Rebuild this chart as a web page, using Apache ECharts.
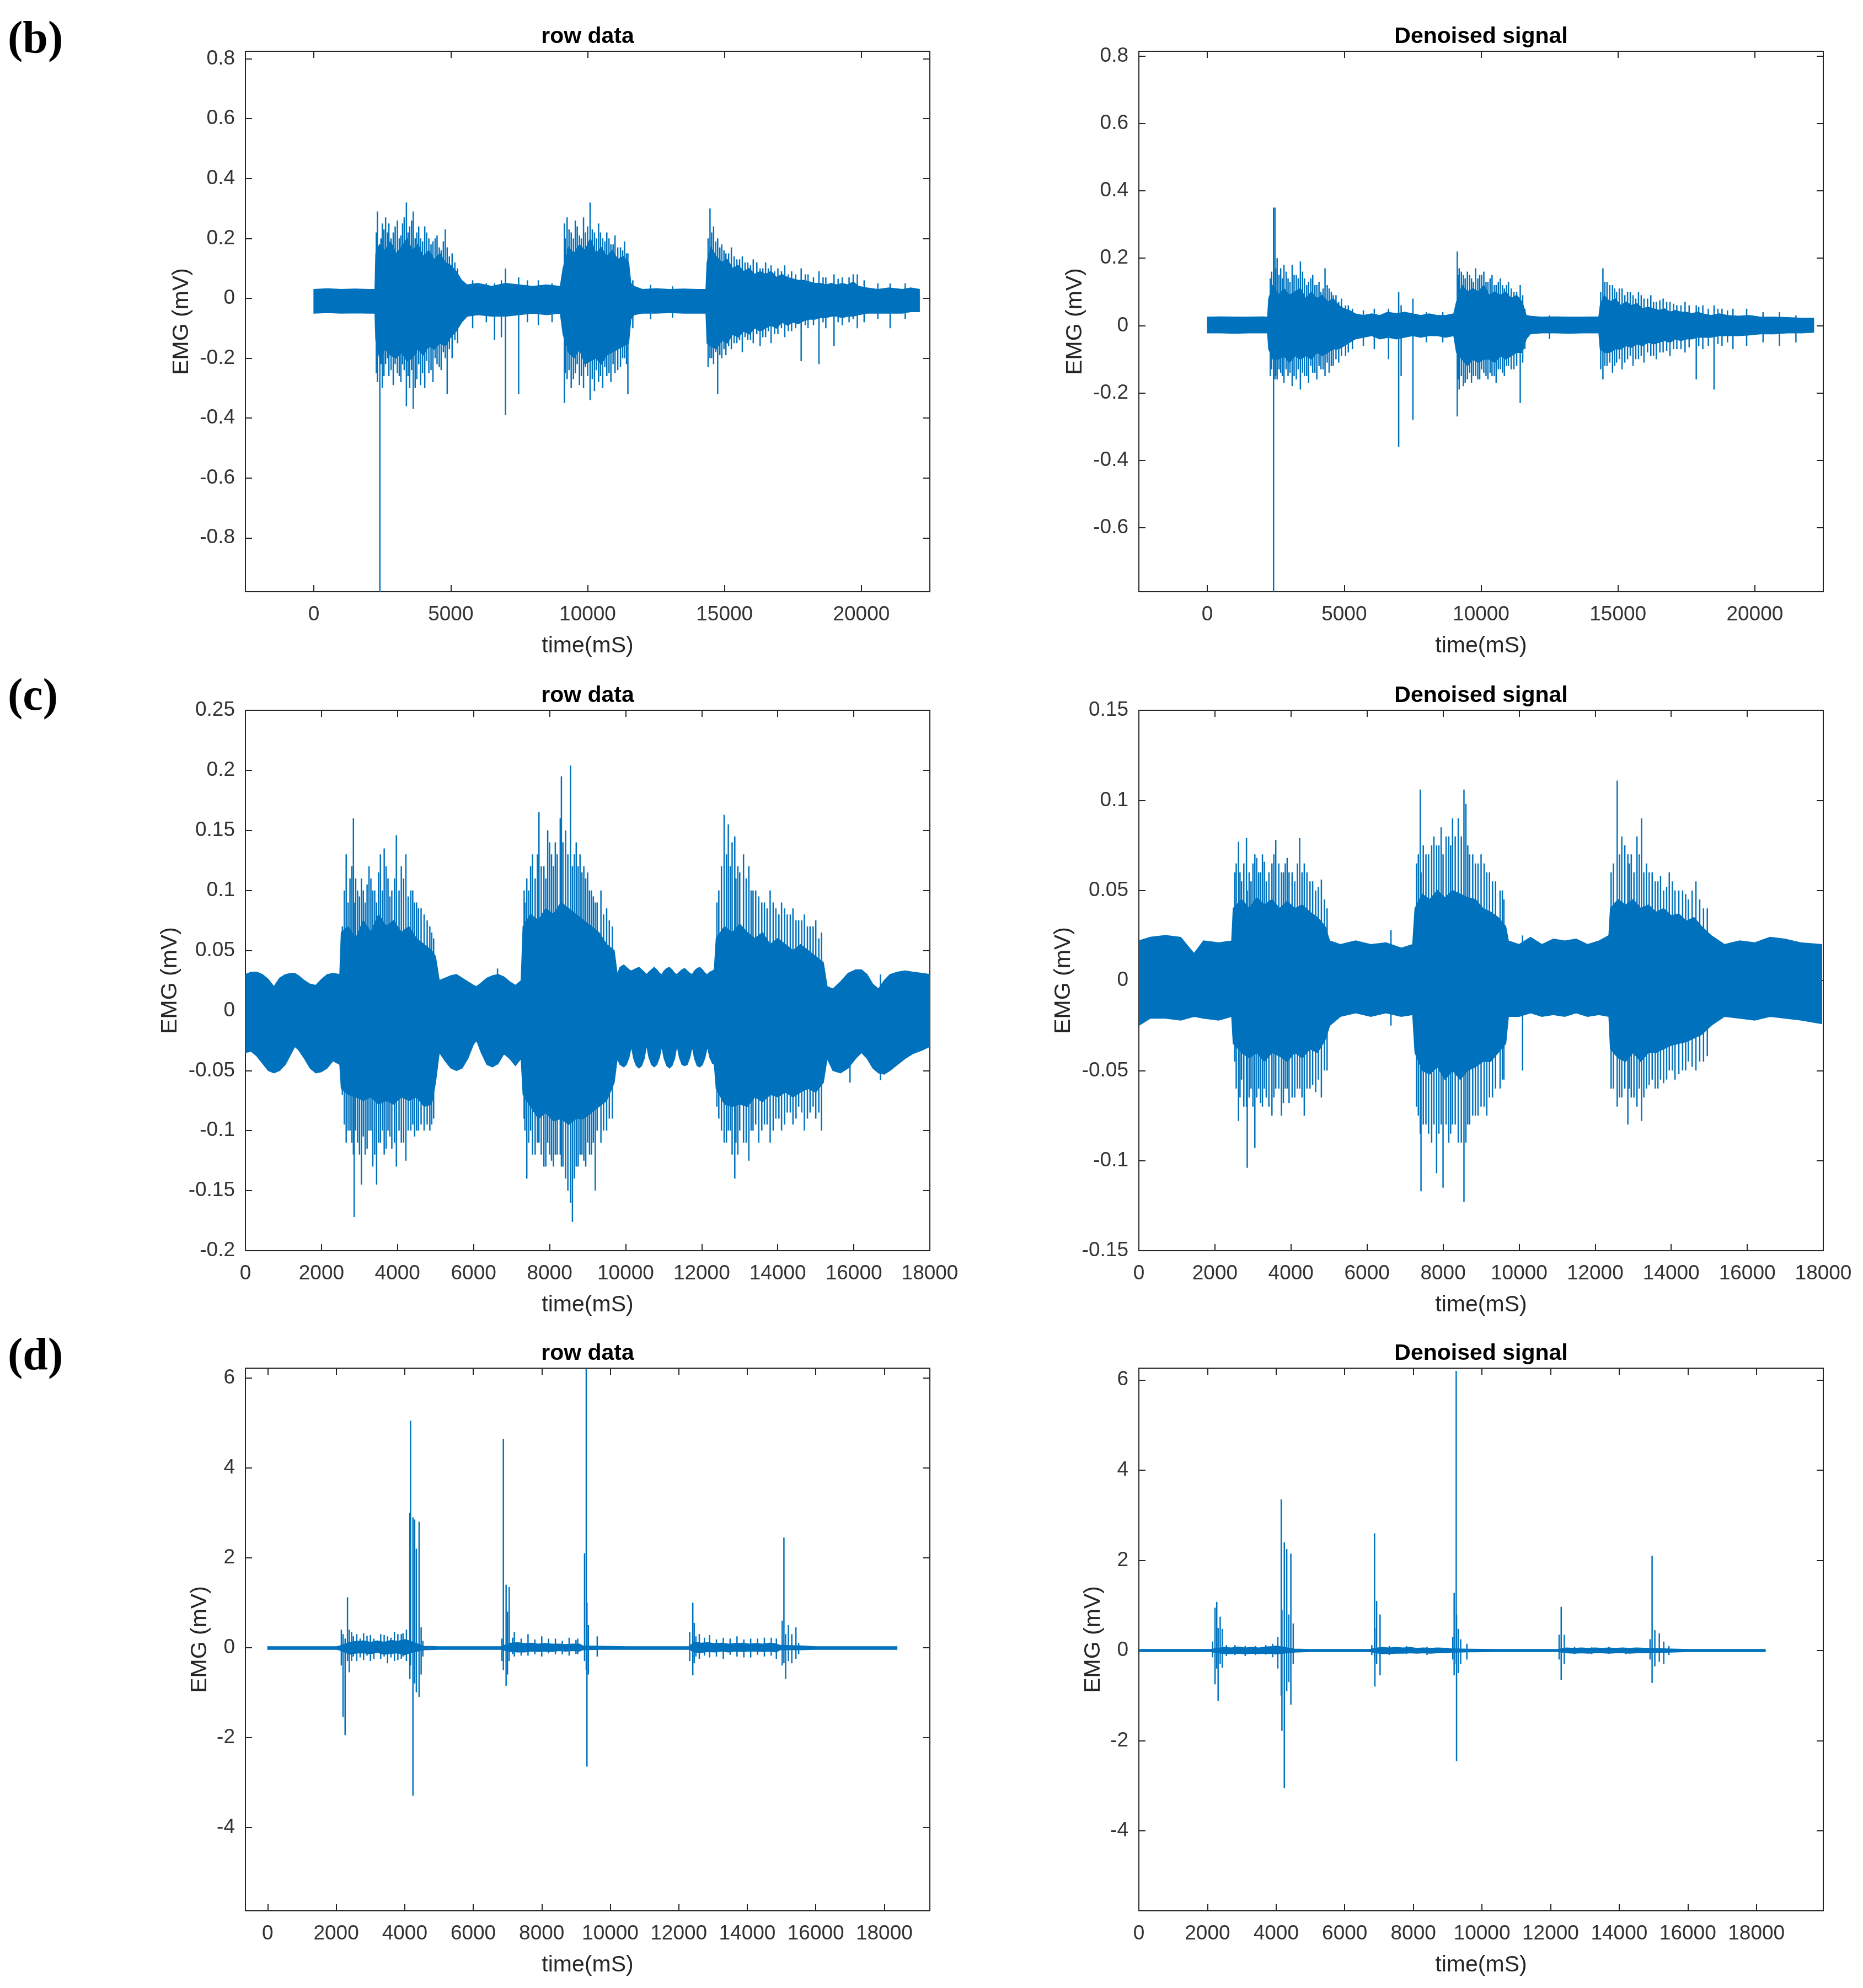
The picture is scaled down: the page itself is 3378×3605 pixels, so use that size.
<!DOCTYPE html>
<html>
<head>
<meta charset="utf-8">
<title>EMG row data / denoised signal</title>
<script src="https://cdn.jsdelivr.net/npm/echarts@6.0.0/dist/echarts.min.js"></script>
<style>
  html, body { margin: 0; padding: 0; background: #fff; }
  #chart { width: 3378px; height: 3605px; }
</style>
</head>
<body>
<div id="chart"></div>
<script>
// tick labels
const bXTicks = [0, 5000, 10000, 15000, 20000];
const cdXTicks = [0, 2000, 4000, 6000, 8000, 10000, 12000, 14000, 16000, 18000];
const bLeftYTicks = [-0.8, -0.6, -0.4, -0.2, 0, 0.2, 0.4, 0.6, 0.8];
const bRightYTicks = [-0.6, -0.4, -0.2, 0, 0.2, 0.4, 0.6, 0.8];
const cLeftYTicks = [-0.2, -0.15, -0.1, -0.05, 0, 0.05, 0.1, 0.15, 0.2, 0.25];
const cRightYTicks = [-0.15, -0.1, -0.05, 0, 0.05, 0.1, 0.15];
const dYTicks = [-4, -2, 0, 2, 4, 6];

// dense part of each recording: [time ms, low mV, high mV]
const bLeftBand = [
  [0,-0.05,0.03],[500,-0.048,0.032],[1000,-0.05,0.03],[1500,-0.049,0.031],[2000,-0.05,0.03],[2230,-0.05,0.03],
  [2260,-0.14,0.15],[2400,-0.2,0.18],[2600,-0.17,0.16],[2800,-0.19,0.19],[3000,-0.2,0.15],[3200,-0.18,0.17],[3400,-0.21,0.2],
  [3600,-0.2,0.16],[3800,-0.17,0.18],[4000,-0.19,0.14],[4200,-0.16,0.16],[4400,-0.17,0.13],[4600,-0.15,0.15],[4800,-0.16,0.12],
  [5000,-0.13,0.11],[5200,-0.11,0.09],[5400,-0.08,0.06],
  [5600,-0.06,0.045],[6000,-0.055,0.05],[6500,-0.06,0.04],[7000,-0.06,0.05],[7500,-0.055,0.045],[8000,-0.05,0.04],[8500,-0.055,0.045],[9000,-0.05,0.04],
  [9100,-0.12,0.1],[9300,-0.18,0.17],[9500,-0.2,0.15],[9700,-0.17,0.18],[9900,-0.22,0.16],[10100,-0.21,0.2],[10300,-0.2,0.15],
  [10500,-0.22,0.17],[10700,-0.19,0.14],[10900,-0.18,0.16],[11100,-0.17,0.13],[11300,-0.16,0.14],[11500,-0.15,0.12],[11580,-0.07,0.05],
  [11700,-0.055,0.04],[12000,-0.05,0.03],[12500,-0.05,0.032],[13000,-0.048,0.03],[13500,-0.05,0.031],[14000,-0.05,0.03],[14320,-0.05,0.03],
  [14360,-0.15,0.12],[14500,-0.16,0.17],[14700,-0.17,0.14],[14900,-0.14,0.12],[15100,-0.15,0.13],[15300,-0.12,0.1],[15500,-0.13,0.11],
  [15700,-0.11,0.09],[15900,-0.12,0.1],[16100,-0.1,0.08],[16300,-0.11,0.09],[16500,-0.1,0.08],[16700,-0.09,0.09],[16900,-0.1,0.07],
  [17100,-0.08,0.08],[17300,-0.09,0.07],[17500,-0.08,0.065],[17700,-0.085,0.06],[17900,-0.075,0.06],[18100,-0.07,0.055],[18300,-0.07,0.05],
  [18500,-0.065,0.05],[18700,-0.065,0.045],[18900,-0.06,0.05],[19100,-0.06,0.045],[19300,-0.065,0.05],[19500,-0.06,0.045],[19700,-0.06,0.055],
  [19900,-0.055,0.04],[20200,-0.05,0.035],[20600,-0.05,0.03],[21000,-0.05,0.035],[21500,-0.05,0.03],[21800,-0.045,0.035],[22120,-0.045,0.03]
];
// single spikes: [time ms, low mV, high mV]
const bLeftSpikes = [
  [2280,-0.25,0.22],[2320,-0.28,0.29],[2410,-0.98,0.05],[2450,-0.22,0.2],[2500,-0.3,0.25],[2560,-0.26,0.23],[2620,-0.22,0.27],
  [2690,-0.2,0.22],[2740,-0.26,0.25],[2820,-0.24,0.2],[2900,-0.29,0.22],[2970,-0.22,0.24],[3050,-0.25,0.26],[3120,-0.26,0.2],
  [3180,-0.28,0.21],[3240,-0.22,0.25],[3300,-0.24,0.27],[3380,-0.36,0.32],[3440,-0.26,0.22],[3500,-0.3,0.24],[3570,-0.24,0.26],
  [3630,-0.37,0.29],[3700,-0.3,0.2],[3760,-0.27,0.22],[3830,-0.22,0.24],[3900,-0.29,0.2],[3970,-0.25,0.19],[4050,-0.3,0.24],
  [4120,-0.21,0.22],[4200,-0.25,0.2],[4280,-0.24,0.18],[4350,-0.28,0.19],[4430,-0.2,0.2],[4500,-0.22,0.21],[4580,-0.23,0.17],
  [4650,-0.24,0.16],[4730,-0.18,0.19],[4800,-0.2,0.23],[4870,-0.32,0.17],[4950,-0.17,0.14],[5050,-0.2,0.15],[5150,-0.14,0.12],[5250,-0.15,0.1],
  [5800,-0.1,0.06],[6300,-0.08,0.05],[6600,-0.14,0.05],[6850,-0.13,0.06],[7000,-0.39,0.1],[7480,-0.32,0.07],[7800,-0.08,0.06],
  [8200,-0.09,0.06],[8700,-0.08,0.05],
  [9150,-0.35,0.25],[9180,-0.25,0.2],[9250,-0.27,0.27],[9320,-0.24,0.23],[9400,-0.3,0.22],[9480,-0.27,0.2],[9550,-0.25,0.26],
  [9620,-0.22,0.24],[9700,-0.29,0.21],[9770,-0.26,0.2],[9850,-0.3,0.27],[9920,-0.23,0.22],[10000,-0.26,0.24],[10090,-0.34,0.32],
  [10170,-0.27,0.23],[10250,-0.31,0.22],[10320,-0.24,0.2],[10400,-0.28,0.25],[10470,-0.26,0.22],[10550,-0.3,0.2],[10630,-0.23,0.19],
  [10700,-0.26,0.22],[10780,-0.25,0.2],[10850,-0.28,0.18],[10930,-0.22,0.18],[11000,-0.25,0.21],[11100,-0.24,0.17],[11200,-0.23,0.17],
  [11280,-0.2,0.16],[11350,-0.2,0.19],[11420,-0.22,0.15],[11470,-0.32,0.15],[11650,-0.1,0.06],
  [12300,-0.07,0.045],[13100,-0.065,0.04],
  [14400,-0.23,0.2],[14470,-0.2,0.3],[14530,-0.2,0.22],[14600,-0.22,0.24],[14680,-0.18,0.19],[14750,-0.32,0.2],[14830,-0.19,0.17],
  [14900,-0.2,0.18],[14980,-0.17,0.16],[15050,-0.19,0.15],[15150,-0.16,0.15],[15250,-0.17,0.17],[15350,-0.15,0.14],[15450,-0.15,0.13],
  [15550,-0.14,0.13],[15650,-0.18,0.14],[15750,-0.13,0.12],[15850,-0.14,0.12],[15950,-0.14,0.11],[16050,-0.15,0.13],[16180,-0.12,0.12],
  [16300,-0.16,0.1],[16400,-0.13,0.1],[16500,-0.13,0.12],[16600,-0.11,0.1],[16700,-0.15,0.11],[16830,-0.12,0.09],[16950,-0.12,0.1],
  [17080,-0.1,0.09],[17200,-0.13,0.11],[17330,-0.11,0.08],[17450,-0.11,0.09],[17600,-0.1,0.08],[17800,-0.21,0.1],[17950,-0.09,0.08],
  [18050,-0.1,0.08],[18250,-0.09,0.07],[18450,-0.22,0.09],[18600,-0.08,0.07],[18700,-0.1,0.07],[19000,-0.16,0.08],[19150,-0.08,0.065],
  [19300,-0.09,0.07],[19550,-0.08,0.07],[19700,-0.07,0.08],[19850,-0.1,0.08],[20100,-0.08,0.06],[20600,-0.07,0.05],[21050,-0.1,0.05],[21600,-0.07,0.05]
];

const bRightBand = [
  [0,-0.022,0.025],[500,-0.022,0.026],[1000,-0.023,0.025],[1500,-0.022,0.025],[2000,-0.022,0.026],[2200,-0.022,0.025],
  [2240,-0.07,0.08],[2400,-0.1,0.12],[2600,-0.1,0.09],[2800,-0.09,0.11],[3000,-0.11,0.09],[3200,-0.09,0.1],[3400,-0.1,0.11],
  [3600,-0.09,0.08],[3800,-0.1,0.1],[4000,-0.08,0.08],[4200,-0.09,0.09],[4400,-0.08,0.07],[4600,-0.07,0.08],[4800,-0.07,0.06],
  [5000,-0.06,0.05],[5200,-0.05,0.045],[5400,-0.04,0.035],
  [5700,-0.035,0.03],[6000,-0.03,0.035],[6300,-0.04,0.03],[6600,-0.035,0.04],[6900,-0.04,0.035],[7200,-0.035,0.04],[7500,-0.03,0.035],
  [7800,-0.035,0.03],[8100,-0.03,0.035],[8400,-0.03,0.03],[8700,-0.035,0.03],[9000,-0.03,0.035],
  [9100,-0.08,0.07],[9300,-0.1,0.12],[9500,-0.12,0.1],[9700,-0.1,0.11],[9900,-0.11,0.1],[10100,-0.1,0.12],[10300,-0.1,0.09],
  [10500,-0.11,0.1],[10700,-0.09,0.09],[10900,-0.1,0.1],[11100,-0.09,0.08],[11300,-0.08,0.09],[11500,-0.08,0.07],[11650,-0.04,0.03],
  [11800,-0.025,0.028],[12200,-0.022,0.025],[12700,-0.022,0.026],[13200,-0.023,0.025],[13700,-0.022,0.025],[14300,-0.022,0.026],
  [14350,-0.07,0.06],[14500,-0.08,0.09],[14700,-0.08,0.07],[14900,-0.07,0.08],[15100,-0.07,0.06],[15300,-0.06,0.07],[15500,-0.065,0.06],
  [15700,-0.055,0.065],[15900,-0.06,0.05],[16100,-0.05,0.055],[16300,-0.055,0.05],[16500,-0.05,0.045],[16700,-0.045,0.05],[16900,-0.05,0.04],
  [17100,-0.04,0.045],[17300,-0.045,0.04],[17500,-0.04,0.04],[17700,-0.04,0.035],[17900,-0.035,0.04],[18100,-0.035,0.035],[18400,-0.035,0.03],
  [18700,-0.03,0.035],[19000,-0.03,0.03],[19400,-0.03,0.028],[19800,-0.028,0.03],[20200,-0.025,0.025],[20700,-0.025,0.025],
  [21200,-0.022,0.024],[21700,-0.022,0.022],[22150,-0.02,0.022]
];
const bRightSpikes = [
  [2300,-0.15,0.14],[2350,-0.13,0.16],[2420,-0.79,0.35],[2470,-0.16,0.35],[2500,-0.15,0.17],[2550,-0.16,0.2],[2620,-0.13,0.15],
  [2680,-0.14,0.17],[2740,-0.15,0.14],[2800,-0.17,0.18],[2880,-0.13,0.16],[2950,-0.15,0.14],[3020,-0.14,0.13],[3100,-0.18,0.18],
  [3170,-0.15,0.15],[3250,-0.16,0.15],[3320,-0.13,0.14],[3400,-0.19,0.19],[3480,-0.14,0.16],[3550,-0.15,0.14],[3630,-0.15,0.12],
  [3700,-0.17,0.13],[3780,-0.12,0.14],[3850,-0.14,0.15],[3930,-0.14,0.12],[4000,-0.16,0.12],[4080,-0.12,0.13],[4150,-0.13,0.1],
  [4230,-0.13,0.11],[4300,-0.15,0.17],[4380,-0.11,0.12],[4450,-0.14,0.11],[4530,-0.12,0.1],[4600,-0.12,0.09],[4700,-0.1,0.09],
  [4800,-0.11,0.07],[4900,-0.09,0.08],[5050,-0.09,0.06],[5150,-0.08,0.06],[5300,-0.07,0.05],
  [5700,-0.06,0.045],[6100,-0.07,0.05],[6620,-0.1,0.05],[6990,-0.36,0.1],[7080,-0.15,0.06],[7510,-0.28,0.08],[8000,-0.05,0.04],[8600,-0.05,0.04],
  [9130,-0.27,0.22],[9170,-0.16,0.15],[9200,-0.19,0.17],[9280,-0.15,0.16],[9350,-0.18,0.15],[9420,-0.17,0.14],[9500,-0.16,0.16],
  [9580,-0.14,0.15],[9650,-0.17,0.14],[9720,-0.15,0.13],[9800,-0.15,0.17],[9880,-0.16,0.14],[9950,-0.16,0.15],[10020,-0.13,0.15],
  [10100,-0.14,0.16],[10180,-0.15,0.13],[10250,-0.16,0.13],[10330,-0.14,0.14],[10400,-0.15,0.15],[10480,-0.15,0.12],[10550,-0.17,0.12],
  [10630,-0.13,0.13],[10700,-0.13,0.14],[10780,-0.14,0.12],[10850,-0.15,0.11],[10930,-0.12,0.12],[11000,-0.12,0.13],[11100,-0.13,0.11],
  [11200,-0.13,0.1],[11300,-0.12,0.1],[11430,-0.23,0.12],[11520,-0.11,0.09],[11600,-0.07,0.05],
  [12500,-0.04,0.03],
  [14370,-0.13,0.1],[14450,-0.16,0.17],[14520,-0.12,0.13],[14600,-0.12,0.13],[14700,-0.11,0.12],[14800,-0.14,0.12],[14880,-0.12,0.11],
  [14950,-0.11,0.1],[15050,-0.1,0.11],[15150,-0.13,0.11],[15250,-0.11,0.09],[15350,-0.1,0.1],[15450,-0.09,0.1],[15550,-0.12,0.09],
  [15650,-0.1,0.08],[15750,-0.1,0.1],[15850,-0.09,0.09],[15950,-0.11,0.08],[16080,-0.08,0.08],[16200,-0.09,0.09],[16300,-0.09,0.07],
  [16400,-0.1,0.07],[16530,-0.08,0.075],[16650,-0.08,0.08],[16780,-0.075,0.07],[16900,-0.09,0.07],[17030,-0.07,0.065],[17150,-0.07,0.06],
  [17300,-0.07,0.06],[17450,-0.08,0.07],[17600,-0.065,0.06],[17860,-0.16,0.06],[17950,-0.06,0.055],[18100,-0.07,0.06],[18300,-0.06,0.05],
  [18510,-0.19,0.06],[18650,-0.055,0.05],[18800,-0.06,0.05],[19000,-0.05,0.045],[19200,-0.07,0.05],[19700,-0.06,0.05],[20300,-0.05,0.04],
  [20900,-0.06,0.04],[21500,-0.05,0.03]
];

const cLeftBand = [
  [0,-0.035,0.03],[150,-0.034,0.032],[300,-0.038,0.032],[450,-0.044,0.03],[600,-0.05,0.026],[750,-0.052,0.02],[900,-0.05,0.027],
  [1050,-0.045,0.03],[1200,-0.036,0.031],[1300,-0.03,0.031],[1400,-0.033,0.029],[1550,-0.04,0.025],[1700,-0.048,0.022],[1850,-0.052,0.021],
  [2000,-0.051,0.026],[2150,-0.048,0.03],[2300,-0.042,0.031],[2480,-0.045,0.03],
  [2520,-0.065,0.065],[2700,-0.07,0.07],[2900,-0.072,0.06],[3100,-0.075,0.075],[3300,-0.072,0.065],[3500,-0.078,0.08],[3700,-0.075,0.07],
  [3900,-0.078,0.075],[4100,-0.072,0.065],[4300,-0.075,0.07],[4500,-0.072,0.06],[4700,-0.08,0.055],[4900,-0.078,0.05],[5000,-0.06,0.045],
  [5100,-0.035,0.025],[5250,-0.042,0.027],[5400,-0.048,0.029],[5550,-0.05,0.03],[5700,-0.048,0.027],[5850,-0.04,0.024],[6000,-0.028,0.021],
  [6080,-0.025,0.02],[6200,-0.035,0.023],[6350,-0.045,0.027],[6500,-0.047,0.029],[6650,-0.044,0.03],[6800,-0.036,0.028],[6950,-0.04,0.024],
  [7100,-0.046,0.021],[7250,-0.04,0.025],
  [7300,-0.07,0.07],[7500,-0.08,0.08],[7700,-0.09,0.075],[7900,-0.085,0.085],[8100,-0.092,0.08],[8300,-0.09,0.09],[8500,-0.095,0.085],
  [8700,-0.09,0.08],[8900,-0.09,0.075],[9100,-0.085,0.07],[9300,-0.08,0.065],[9500,-0.075,0.055],[9700,-0.06,0.05],
  [9780,-0.04,0.03],[9850,-0.045,0.036],[9950,-0.047,0.038],[10020,-0.045,0.036],[10090,-0.039,0.034],[10150,-0.03,0.033],
  [10210,-0.04,0.034],[10280,-0.046,0.035],[10350,-0.048,0.036],[10420,-0.046,0.034],[10490,-0.04,0.032],[10550,-0.029,0.03],
  [10610,-0.039,0.032],[10680,-0.045,0.034],[10750,-0.047,0.036],[10820,-0.045,0.034],[10890,-0.039,0.031],[10950,-0.03,0.03],
  [11010,-0.04,0.033],[11080,-0.046,0.035],[11150,-0.048,0.036],[11220,-0.046,0.034],[11290,-0.04,0.031],[11350,-0.029,0.03],
  [11410,-0.039,0.032],[11480,-0.045,0.034],[11550,-0.046,0.035],[11620,-0.045,0.033],[11690,-0.039,0.031],[11750,-0.03,0.03],
  [11810,-0.04,0.033],[11880,-0.046,0.035],[11950,-0.047,0.036],[12020,-0.045,0.034],[12090,-0.039,0.031],[12150,-0.03,0.03],
  [12210,-0.039,0.032],[12280,-0.044,0.033],[12330,-0.045,0.034],
  [12380,-0.065,0.06],[12600,-0.078,0.07],[12800,-0.08,0.065],[13000,-0.078,0.072],[13200,-0.08,0.065],[13400,-0.072,0.06],[13600,-0.076,0.065],
  [13800,-0.07,0.055],[14000,-0.072,0.06],[14200,-0.068,0.055],[14400,-0.072,0.05],[14600,-0.068,0.055],[14800,-0.065,0.05],[15000,-0.068,0.045],
  [15200,-0.06,0.04],
  [15300,-0.04,0.02],[15450,-0.05,0.018],[15650,-0.052,0.024],[15850,-0.048,0.031],[16050,-0.04,0.034],[16200,-0.035,0.034],[16350,-0.04,0.03],
  [16500,-0.048,0.022],[16650,-0.052,0.018],[16800,-0.053,0.025],[16950,-0.05,0.03],[17150,-0.045,0.032],[17350,-0.04,0.033],[17550,-0.036,0.032],
  [17800,-0.033,0.031],[18000,-0.03,0.03]
];
const cLeftSpikes = [
  [2550,-0.07,0.07],[2600,-0.095,0.1],[2650,-0.11,0.13],[2700,-0.1,0.09],[2750,-0.1,0.11],[2800,-0.11,0.12],[2840,-0.12,0.16],
  [2860,-0.172,0.09],[2900,-0.1,0.11],[2950,-0.11,0.1],[3000,-0.12,0.095],[3050,-0.145,0.11],[3100,-0.105,0.1],[3150,-0.12,0.09],
  [3200,-0.115,0.105],[3250,-0.1,0.12],[3300,-0.1,0.11],[3350,-0.13,0.1],[3400,-0.12,0.1],[3450,-0.145,0.09],[3500,-0.11,0.115],
  [3550,-0.11,0.13],[3600,-0.1,0.1],[3650,-0.12,0.135],[3700,-0.115,0.12],[3750,-0.1,0.11],[3800,-0.105,0.095],[3850,-0.115,0.1],
  [3920,-0.11,0.11],[3970,-0.13,0.146],[4040,-0.1,0.1],[4100,-0.11,0.12],[4160,-0.11,0.11],[4220,-0.125,0.13],[4280,-0.1,0.095],
  [4350,-0.1,0.1],[4400,-0.095,0.1],[4450,-0.105,0.09],[4500,-0.1,0.09],[4550,-0.1,0.085],[4620,-0.095,0.085],[4700,-0.1,0.08],
  [4780,-0.095,0.075],[4850,-0.1,0.07],[4900,-0.095,0.065],[4950,-0.09,0.06],
  [6630,-0.045,0.035],
  [7330,-0.09,0.1],[7350,-0.1,0.09],[7400,-0.14,0.11],[7450,-0.11,0.1],[7500,-0.1,0.12],[7550,-0.12,0.13],[7620,-0.12,0.11],
  [7680,-0.11,0.13],[7720,-0.11,0.165],[7780,-0.12,0.12],[7850,-0.13,0.12],[7900,-0.13,0.11],[7950,-0.11,0.15],[8000,-0.12,0.14],
  [8050,-0.125,0.13],[8100,-0.13,0.12],[8150,-0.12,0.14],[8200,-0.12,0.13],[8280,-0.12,0.16],[8310,-0.13,0.195],[8350,-0.13,0.14],
  [8420,-0.14,0.15],[8480,-0.15,0.13],[8550,-0.16,0.204],[8600,-0.176,0.12],[8650,-0.14,0.13],[8700,-0.13,0.14],[8750,-0.13,0.12],
  [8800,-0.12,0.13],[8850,-0.12,0.115],[8900,-0.125,0.12],[8950,-0.13,0.11],[9000,-0.11,0.115],[9050,-0.12,0.1],[9100,-0.12,0.1],
  [9150,-0.11,0.095],[9200,-0.15,0.09],[9250,-0.1,0.09],[9350,-0.11,0.1],[9420,-0.1,0.08],[9500,-0.1,0.085],[9570,-0.09,0.075],[9650,-0.09,0.07],
  [12400,-0.08,0.09],[12450,-0.09,0.1],[12520,-0.1,0.12],[12590,-0.11,0.163],[12650,-0.11,0.13],[12700,-0.1,0.155],[12750,-0.1,0.12],
  [12800,-0.12,0.14],[12870,-0.14,0.145],[12900,-0.11,0.11],[12950,-0.12,0.12],[13000,-0.1,0.115],[13100,-0.11,0.13],[13170,-0.11,0.11],
  [13240,-0.125,0.12],[13300,-0.1,0.1],[13350,-0.1,0.1],[13420,-0.095,0.1],[13500,-0.11,0.095],[13580,-0.1,0.09],[13650,-0.095,0.09],
  [13720,-0.095,0.085],[13800,-0.11,0.1],[13880,-0.1,0.09],[13950,-0.09,0.085],[14030,-0.09,0.08],[14100,-0.1,0.09],[14180,-0.095,0.085],
  [14250,-0.085,0.08],[14330,-0.085,0.08],[14400,-0.095,0.085],[14480,-0.09,0.075],[14550,-0.08,0.075],[14630,-0.085,0.075],[14700,-0.1,0.08],
  [14780,-0.09,0.07],[14850,-0.085,0.07],[14930,-0.08,0.07],[15000,-0.09,0.075],[15080,-0.085,0.06],[15150,-0.1,0.065],
  [15900,-0.06,0.03],[16700,-0.058,0.03]
];

const cRightBand = [
  [0,-0.025,0.022],[300,-0.021,0.024],[700,-0.021,0.025],[1100,-0.022,0.024],[1450,-0.02,0.015],[1700,-0.021,0.022],[2100,-0.022,0.021],[2440,-0.02,0.022],
  [2480,-0.035,0.04],[2700,-0.04,0.045],[2900,-0.043,0.04],[3100,-0.04,0.046],[3300,-0.045,0.042],[3500,-0.04,0.045],[3700,-0.042,0.04],
  [3900,-0.045,0.044],[4100,-0.04,0.04],[4300,-0.043,0.042],[4500,-0.038,0.038],[4700,-0.04,0.035],[4900,-0.033,0.03],[5020,-0.025,0.022],
  [5300,-0.02,0.02],[5700,-0.018,0.022],[6100,-0.02,0.02],[6500,-0.018,0.021],[6900,-0.02,0.018],[7200,-0.019,0.02],
  [7260,-0.04,0.04],[7450,-0.05,0.048],[7650,-0.052,0.045],[7850,-0.048,0.05],[8050,-0.055,0.046],[8250,-0.05,0.05],[8450,-0.055,0.048],
  [8650,-0.05,0.046],[8850,-0.048,0.045],[9050,-0.045,0.04],[9250,-0.045,0.038],[9450,-0.04,0.035],[9650,-0.035,0.03],
  [9720,-0.02,0.022],[10000,-0.02,0.02],[10300,-0.018,0.024],[10600,-0.02,0.02],[10900,-0.019,0.023],[11200,-0.02,0.022],[11500,-0.018,0.023],
  [11800,-0.02,0.02],[12100,-0.019,0.022],[12360,-0.02,0.025],
  [12400,-0.038,0.04],[12600,-0.043,0.045],[12800,-0.045,0.042],[13000,-0.04,0.045],[13200,-0.045,0.04],[13400,-0.04,0.042],[13600,-0.04,0.038],
  [13800,-0.038,0.04],[14000,-0.036,0.036],[14200,-0.035,0.037],[14400,-0.034,0.033],[14600,-0.032,0.035],[14800,-0.03,0.03],[15050,-0.025,0.025],
  [15400,-0.02,0.02],[15800,-0.021,0.022],[16200,-0.022,0.021],[16600,-0.02,0.024],[17000,-0.021,0.023],[17400,-0.022,0.021],[17960,-0.024,0.02]
];
const cRightSpikes = [
  [2520,-0.045,0.06],[2560,-0.06,0.065],[2620,-0.078,0.077],[2660,-0.065,0.06],[2700,-0.055,0.055],[2760,-0.07,0.065],[2830,-0.07,0.079],
  [2850,-0.104,0.05],[2900,-0.065,0.06],[2950,-0.06,0.055],[3000,-0.07,0.065],[3050,-0.093,0.07],[3100,-0.065,0.068],[3150,-0.06,0.06],
  [3200,-0.068,0.06],[3250,-0.07,0.07],[3300,-0.06,0.066],[3350,-0.065,0.055],[3420,-0.07,0.06],[3500,-0.075,0.065],[3550,-0.065,0.07],
  [3600,-0.06,0.078],[3680,-0.06,0.065],[3750,-0.075,0.06],[3800,-0.068,0.06],[3850,-0.06,0.065],[3900,-0.06,0.068],[3950,-0.068,0.06],
  [4030,-0.065,0.06],[4100,-0.065,0.055],[4170,-0.06,0.065],[4230,-0.06,0.079],[4290,-0.065,0.06],[4350,-0.075,0.065],[4420,-0.06,0.06],
  [4500,-0.06,0.055],[4570,-0.058,0.055],[4650,-0.062,0.05],[4720,-0.055,0.052],[4800,-0.065,0.056],[4880,-0.05,0.045],[4950,-0.05,0.04],
  [6630,-0.025,0.028],
  [7300,-0.07,0.065],[7350,-0.075,0.07],[7400,-0.085,0.106],[7420,-0.117,0.06],[7480,-0.08,0.075],[7550,-0.08,0.07],[7620,-0.085,0.07],
  [7700,-0.09,0.075],[7760,-0.08,0.08],[7830,-0.107,0.075],[7890,-0.085,0.075],[7950,-0.08,0.085],[8000,-0.115,0.07],[8080,-0.08,0.08],
  [8150,-0.09,0.08],[8200,-0.085,0.075],[8250,-0.08,0.09],[8320,-0.08,0.08],[8400,-0.09,0.09],[8480,-0.09,0.08],[8550,-0.123,0.106],
  [8600,-0.09,0.098],[8650,-0.08,0.075],[8700,-0.08,0.07],[8780,-0.075,0.07],[8850,-0.075,0.065],[8920,-0.075,0.065],[9000,-0.07,0.07],
  [9080,-0.07,0.065],[9150,-0.075,0.06],[9220,-0.065,0.06],[9300,-0.065,0.055],[9380,-0.06,0.055],[9500,-0.06,0.05],[9560,-0.055,0.05],[9600,-0.055,0.045],
  [10090,-0.05,0.025],
  [12420,-0.06,0.06],[12480,-0.06,0.065],[12580,-0.07,0.111],[12640,-0.065,0.07],[12700,-0.065,0.08],[12780,-0.06,0.075],[12860,-0.08,0.07],
  [12900,-0.06,0.065],[12950,-0.065,0.07],[13020,-0.065,0.06],[13100,-0.07,0.08],[13160,-0.06,0.07],[13220,-0.078,0.09],[13280,-0.065,0.06],
  [13350,-0.06,0.065],[13420,-0.058,0.06],[13500,-0.055,0.06],[13580,-0.06,0.055],[13650,-0.06,0.055],[13720,-0.055,0.058],[13800,-0.057,0.05],
  [13880,-0.055,0.052],[13950,-0.05,0.06],[14030,-0.05,0.055],[14100,-0.055,0.05],[14200,-0.052,0.05],[14300,-0.05,0.05],[14380,-0.05,0.048],
  [14450,-0.045,0.045],[14550,-0.048,0.05],[14650,-0.05,0.055],[14750,-0.045,0.045],[14850,-0.045,0.04],[14950,-0.042,0.04]
];

const dLeftBand = [
  [0,-0.04,0.02],[1000,-0.04,0.02],[2000,-0.04,0.02],[2080,-0.05,0.03],
  [2400,-0.15,0.12],[2600,-0.12,0.14],[2800,-0.12,0.15],[3000,-0.14,0.12],[3200,-0.11,0.15],[3400,-0.15,0.12],[3600,-0.13,0.16],
  [3800,-0.12,0.14],[4000,-0.16,0.18],[4140,-0.12,0.15],
  [4560,-0.05,0.03],[5000,-0.04,0.02],[6000,-0.04,0.02],[6800,-0.04,0.02],
  [7090,-0.09,0.1],[7300,-0.1,0.11],[7500,-0.1,0.09],[7700,-0.08,0.1],[7900,-0.09,0.08],[8100,-0.08,0.09],[8300,-0.09,0.08],
  [8500,-0.07,0.08],[8700,-0.08,0.07],[8900,-0.07,0.08],[9100,-0.08,0.08],
  [9200,-0.05,0.04],[9700,-0.04,0.03],[10500,-0.04,0.02],[11500,-0.04,0.02],[12300,-0.04,0.02],
  [12450,-0.1,0.12],[12650,-0.11,0.1],[12850,-0.09,0.11],[13050,-0.1,0.09],[13250,-0.08,0.1],[13450,-0.1,0.08],[13650,-0.08,0.09],
  [13850,-0.09,0.1],[14050,-0.08,0.08],[14250,-0.08,0.09],[14450,-0.09,0.08],[14650,-0.08,0.1],[14850,-0.1,0.08],[14960,-0.05,0.05],
  [15530,-0.05,0.04],[16000,-0.04,0.02],[17000,-0.04,0.02],[18370,-0.04,0.02]
];
const dLeftSpikes = [
  [2150,-0.4,0.4],[2200,-1.55,0.3],[2260,-1.95,0.2],[2330,-0.3,1.12],[2380,-0.55,0.4],[2450,-0.3,0.35],[2500,-0.2,0.25],[2600,-0.3,0.3],
  [2700,-0.22,0.2],[2800,-0.28,0.32],[2900,-0.18,0.26],[3000,-0.3,0.28],[3100,-0.25,0.2],[3300,-0.25,0.3],[3400,-0.2,0.28],
  [3500,-0.35,0.25],[3600,-0.22,0.22],[3700,-0.3,0.35],[3800,-0.28,0.3],[3900,-0.25,0.3],[3950,-0.2,0.32],[4050,-0.3,0.4],
  [4150,-0.7,3.0],[4170,-0.4,5.05],[4240,-3.3,2.9],[4290,-0.8,2.85],[4340,-1.0,2.2],[4420,-1.1,2.8],[4480,-0.6,0.45],[4530,-0.2,0.15],
  [6840,-0.3,0.2],[6880,-0.5,4.65],[6960,-0.85,1.4],[7000,-0.6,0.8],[7050,-0.3,1.35],[7150,-0.15,0.22],[7200,-0.2,0.35],[7400,-0.18,0.2],
  [7600,-0.18,0.3],[7800,-0.15,0.18],[8000,-0.2,0.25],[8200,-0.13,0.2],[8400,-0.15,0.2],[8600,-0.15,0.15],[8800,-0.18,0.22],
  [9000,-0.14,0.17],[9050,-0.15,0.2],
  [9250,-0.3,2.1],[9300,-0.5,6.2],[9320,-2.65,1.0],[9360,-0.6,0.5],[9620,-0.2,0.25],
  [12320,-0.3,0.35],[12410,-0.62,1.0],[12450,-0.35,0.55],[12500,-0.2,0.25],[12600,-0.25,0.3],[12750,-0.18,0.22],[12900,-0.22,0.28],
  [13100,-0.2,0.18],[13300,-0.25,0.22],[13500,-0.16,0.2],[13700,-0.2,0.25],[13900,-0.22,0.18],[14100,-0.22,0.2],[14300,-0.16,0.2],
  [14500,-0.2,0.22],[14700,-0.18,0.22],[14850,-0.25,0.2],
  [15020,-0.4,0.6],[15070,-0.35,2.45],[15120,-0.7,0.3],[15200,-0.3,0.5],[15300,-0.35,0.3],[15420,-0.25,0.45],[15500,-0.15,0.1]
];

const dRightBand = [
  [0,-0.025,0.025],[1000,-0.025,0.025],[2080,-0.025,0.025],
  [2480,-0.07,0.07],[2700,-0.07,0.06],[2900,-0.06,0.08],[3100,-0.08,0.06],[3300,-0.06,0.07],[3500,-0.07,0.06],[3700,-0.06,0.08],
  [3900,-0.07,0.09],[4000,-0.08,0.1],
  [4530,-0.035,0.035],[5000,-0.025,0.025],[6000,-0.025,0.025],[6720,-0.025,0.025],
  [7060,-0.07,0.07],[7300,-0.07,0.06],[7500,-0.06,0.07],[7700,-0.06,0.06],[7900,-0.05,0.07],[8100,-0.06,0.05],[8300,-0.05,0.06],
  [8500,-0.06,0.05],[8700,-0.05,0.06],[9000,-0.05,0.05],[9080,-0.04,0.04],
  [9620,-0.03,0.03],[10500,-0.025,0.025],[11500,-0.025,0.025],[12220,-0.025,0.025],
  [12450,-0.05,0.06],[12700,-0.06,0.05],[12900,-0.05,0.06],[13100,-0.06,0.05],[13300,-0.05,0.06],[13500,-0.05,0.05],[13700,-0.06,0.06],
  [13900,-0.05,0.05],[14100,-0.05,0.06],[14300,-0.06,0.05],[14500,-0.05,0.06],[14840,-0.05,0.05],
  [15520,-0.035,0.035],[16000,-0.025,0.025],[17000,-0.025,0.025],[18260,-0.025,0.025]
];
const dRightSpikes = [
  [2150,-0.15,0.2],[2220,-0.75,0.95],[2270,-0.4,1.08],[2310,-1.12,0.5],[2370,-0.3,0.75],[2430,-0.38,0.48],[2550,-0.12,0.12],
  [2800,-0.1,0.12],[3100,-0.12,0.1],[3400,-0.1,0.1],[3700,-0.09,0.12],[3900,-0.15,0.15],
  [4050,-0.4,0.3],[4150,-1.0,3.35],[4170,-1.78,0.9],[4240,-3.05,2.4],[4310,-0.9,2.25],[4370,-0.7,0.8],[4430,-1.2,2.15],[4500,-0.3,0.6],
  [6790,-0.1,0.12],[6870,-0.2,2.6],[6880,-0.8,0.5],[6930,-0.3,1.1],[7030,-0.55,0.8],[7300,-0.1,0.1],[7800,-0.08,0.1],[8400,-0.1,0.08],
  [9150,-0.2,0.3],[9190,-0.55,1.28],[9250,-0.3,6.2],[9260,-2.45,0.8],[9310,-0.5,0.48],[9380,-0.3,0.25],[9560,-0.2,0.15],
  [12250,-0.2,0.35],[12310,-0.65,0.97],[12400,-0.3,0.35],[12700,-0.08,0.08],[13200,-0.08,0.07],[13700,-0.07,0.08],[14200,-0.08,0.06],
  [14900,-0.2,0.25],[14960,-0.72,2.1],[15040,-0.35,0.45],[15170,-0.25,0.38],[15300,-0.3,0.2],[15450,-0.1,0.1]
];

const BLUE = '#0072BD';
const AXIS = '#262626';
const FONT = '"Liberation Sans", Arial, Helvetica, sans-serif';

// panels in reading order
const panels = [
  { title: 'row data', band: bLeftBand, spikes: bLeftSpikes, xr: [-2500, 22500], yr: [-0.98, 0.825], xt: bXTicks, yt: bLeftYTicks },
  { title: 'Denoised signal', band: bRightBand, spikes: bRightSpikes, xr: [-2500, 22500], yr: [-0.79, 0.814], xt: bXTicks, yt: bRightYTicks },
  { title: 'row data', band: cLeftBand, spikes: cLeftSpikes, xr: [0, 18000], yr: [-0.2, 0.25], xt: cdXTicks, yt: cLeftYTicks },
  { title: 'Denoised signal', band: cRightBand, spikes: cRightSpikes, xr: [0, 18000], yr: [-0.15, 0.15], xt: cdXTicks, yt: cRightYTicks },
  { title: 'row data', band: dLeftBand, spikes: dLeftSpikes, xr: [-650, 19330], yr: [-5.86, 6.22], xt: cdXTicks, yt: dYTicks },
  { title: 'Denoised signal', band: dRightBand, spikes: dRightSpikes, xr: [0, 19950], yr: [-5.77, 6.26], xt: cdXTicks, yt: dYTicks }
];

// layout (pixels)
const boxes = [
  { left: 445, top: 93, width: 1241, height: 980 },
  { left: 2065, top: 93, width: 1241, height: 980 },
  { left: 445, top: 1288, width: 1241, height: 980 },
  { left: 2065, top: 1288, width: 1241, height: 980 },
  { left: 445, top: 2481, width: 1241, height: 984 },
  { left: 2065, top: 2481, width: 1241, height: 984 }
];
const yNameGap = [95, 95, 116, 116, 62, 62];
const letters = [['(b)', 74], ['(c)', 1266], ['(d)', 2462]];

const tickStyle = (vals) => ({ show: true, inside: true, length: 12, customValues: vals, lineStyle: { color: AXIS, width: 2 } });
const lineStyle = { show: true, onZero: false, lineStyle: { color: AXIS, width: 2 } };

const grid = [], xAxis = [], yAxis = [], series = [], graphic = [];

panels.forEach((p, i) => {
  const b = boxes[i];
  grid.push({ left: b.left, top: b.top, width: b.width, height: b.height, containLabel: false });
  const common = { gridIndex: i, type: 'value', splitLine: { show: false }, axisLine: lineStyle };
  xAxis.push(Object.assign({}, common, {
    position: 'bottom', min: p.xr[0], max: p.xr[1],
    axisTick: tickStyle(p.xt),
    axisLabel: { customValues: p.xt, formatter: (v) => String(v), margin: 23, fontSize: 37, color: '#333', fontFamily: FONT },
    name: 'time(mS)', nameLocation: 'middle', nameGap: 78,
    nameTextStyle: { fontSize: 41, color: AXIS, fontFamily: FONT }
  }));
  xAxis.push(Object.assign({}, common, {
    position: 'top', min: p.xr[0], max: p.xr[1],
    axisTick: tickStyle(p.xt), axisLabel: { show: false }
  }));
  yAxis.push(Object.assign({}, common, {
    position: 'left', min: p.yr[0], max: p.yr[1],
    axisTick: tickStyle(p.yt),
    axisLabel: { customValues: p.yt, formatter: (v) => String(v), margin: 19, fontSize: 37, color: '#333', fontFamily: FONT },
    name: 'EMG (mV)', nameLocation: 'middle', nameRotate: 90, nameGap: yNameGap[i],
    nameTextStyle: { fontSize: 41, color: AXIS, fontFamily: FONT }
  }));
  yAxis.push(Object.assign({}, common, {
    position: 'right', min: p.yr[0], max: p.yr[1],
    axisTick: tickStyle(p.yt), axisLabel: { show: false }
  }));

  const rows = p.band;
  series.push({
    type: 'custom', xAxisIndex: i * 2, yAxisIndex: i * 2, clip: true, silent: true,
    data: rows,
    encode: { x: 0, y: [1, 2] },
    renderItem: (params, api) => {
      if (params.dataIndex !== 0) return null;
      const upper = rows.map((r) => api.coord([r[0], r[2]]));
      const lower = rows.map((r) => api.coord([r[0], r[1]])).reverse();
      return {
        type: 'polygon',
        shape: { points: upper.concat(lower) },
        style: { fill: BLUE, stroke: BLUE, lineWidth: 1.5 }
      };
    }
  });
  series.push({
    type: 'custom', xAxisIndex: i * 2, yAxisIndex: i * 2, clip: true, silent: true,
    data: p.spikes,
    encode: { x: 0, y: [1, 2] },
    renderItem: (params, api) => {
      const a = api.coord([api.value(0), api.value(1)]);
      const c = api.coord([api.value(0), api.value(2)]);
      return {
        type: 'line',
        shape: { x1: a[0], y1: a[1], x2: c[0], y2: c[1] },
        style: { stroke: BLUE, lineWidth: 2.5 }
      };
    }
  });

  graphic.push({
    type: 'text', x: b.left + b.width / 2, y: b.top - 26,
    style: { text: p.title, fill: '#000', font: 'bold 41px ' + FONT, textAlign: 'center', textVerticalAlign: 'middle' }
  });
});

letters.forEach(([t, y]) => {
  graphic.push({
    type: 'text', x: 14, y: y,
    style: { text: t, fill: '#000', font: 'bold 82px "Liberation Serif", "Times New Roman", serif', textAlign: 'left', textVerticalAlign: 'middle' }
  });
});

const chart = echarts.init(document.getElementById('chart'), null, { renderer: 'canvas' });
chart.setOption({
  animation: false,
  backgroundColor: '#fff',
  grid: grid,
  xAxis: xAxis,
  yAxis: yAxis,
  series: series,
  graphic: graphic
});
</script>
</body>
</html>
